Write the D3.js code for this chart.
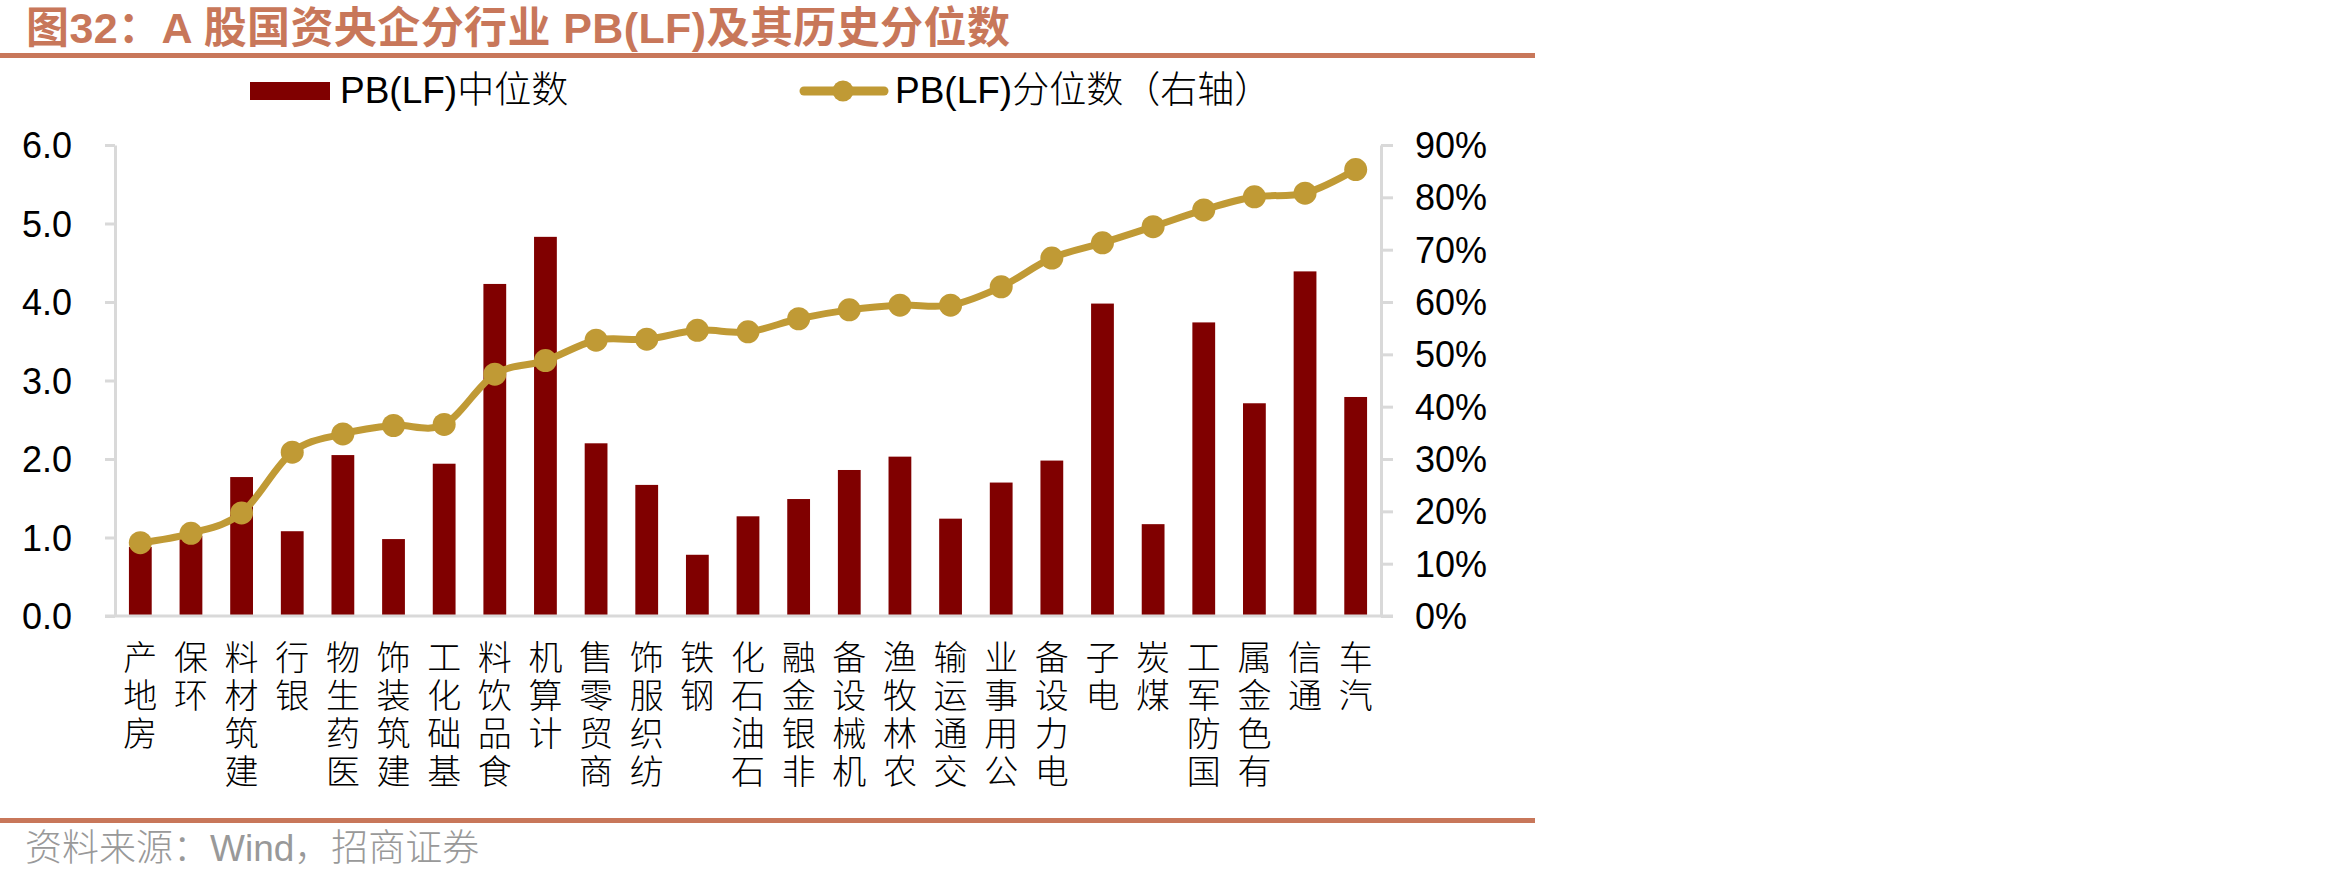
<!DOCTYPE html>
<html>
<head>
<meta charset="utf-8">
<script src="https://cdn.jsdelivr.net/npm/d3@7"></script>
<style>
  body { margin: 0; background: #fff; }
  text { font-family: "Liberation Sans", Arial, "Noto Sans CJK SC", sans-serif; }
</style>
</head>
<body>
<div id="chart"></div>
<script>
// 行业
var categories = ['房地产','环保','建筑材料','银行','医药生物','建筑装饰','基础化工','食品饮料','计算机','商贸零售','纺织服饰','钢铁','石油石化','非银金融','机械设备','农林牧渔','交通运输','公用事业','电力设备','电子','煤炭','国防军工','有色金属','通信','汽车'];
// PB(LF)中位数
var pbMedian = [0.88,1.02,1.77,1.08,2.05,0.98,1.94,4.23,4.83,2.20,1.67,0.78,1.27,1.49,1.86,2.03,1.24,1.70,1.98,3.98,1.17,3.74,2.71,4.39,2.79];
// PB(LF)分位数（右轴）
var pbPct = [0.140,0.158,0.197,0.313,0.348,0.364,0.366,0.462,0.488,0.527,0.529,0.546,0.543,0.568,0.585,0.594,0.594,0.629,0.684,0.713,0.744,0.776,0.801,0.808,0.853];
var leftTicks = [0,1,2,3,4,5,6];
var rightTicks = [0,0.1,0.2,0.3,0.4,0.5,0.6,0.7,0.8,0.9];

var width = 2350, height = 881;
var barColor = '#800000', lineColor = '#C09A35', accent = '#C8775A', axisColor = '#D9D9D9';

var svg = d3.select('#chart').append('svg')
    .attr('width', width)
    .attr('height', height);

// 标题
svg.append('text')
    .attr('x', 26).attr('y', 43)
    .attr('font-size', 43).attr('font-weight', 'bold')
    .attr('letter-spacing', 0.4)
    .attr('fill', accent)
    .text('图32：A 股国资央企分行业 PB(LF)及其历史分位数');
svg.append('rect').attr('x', 0).attr('y', 53).attr('width', 1535).attr('height', 5).attr('fill', accent);

// 比例尺
var x = d3.scaleBand().domain(categories).range([115, 1381]).paddingInner(0.55).paddingOuter(0.275);
var yL = d3.scaleLinear().domain([0, 6]).range([616, 145]);
var yR = d3.scaleLinear().domain([0, 0.9]).range([616, 145]);

// 柱子
svg.selectAll('rect.bar')
    .data(pbMedian)
    .enter()
    .append('rect')
    .attr('class', 'bar')
    .attr('x', function (d, i) { return x(categories[i]); })
    .attr('y', function (d) { return yL(d); })
    .attr('width', x.bandwidth())
    .attr('height', function (d) { return yL(0) - yL(d); })
    .attr('fill', barColor);

// 坐标轴
var leftAxis = d3.axisLeft(yL).tickValues(leftTicks).tickSize(10).tickSizeOuter(0).tickPadding(33)
    .tickFormat(d3.format('.1f'));
var rightAxis = d3.axisRight(yR).tickValues(rightTicks).tickSize(12).tickSizeOuter(0).tickPadding(22)
    .tickFormat(d3.format('.0%'));

var gL = svg.append('g').attr('transform', 'translate(115,0)').call(leftAxis);
var gR = svg.append('g').attr('transform', 'translate(1381,0)').call(rightAxis);
[gL, gR].forEach(function (g) {
    g.select('.domain').attr('stroke', axisColor).attr('stroke-width', 3);
    g.selectAll('.tick line').attr('stroke', axisColor).attr('stroke-width', 3);
    g.selectAll('.tick text').attr('font-size', 36).attr('fill', '#000')
        .attr('font-family', '"Liberation Sans", Arial, sans-serif').attr('dy', '0.35em');
});
// x轴
svg.append('line')
    .attr('x1', 105).attr('x2', 1393)
    .attr('y1', yL(0)).attr('y2', yL(0))
    .attr('stroke', axisColor).attr('stroke-width', 3);

// 行业标签（竖排，自下而上）
var labels = svg.append('g');
categories.forEach(function (c, i) {
    var chars = c.split('').reverse();
    var cx = x(c) + x.bandwidth() / 2;
    chars.forEach(function (ch, j) {
        labels.append('text')
            .attr('x', cx).attr('y', 658 + j * 38)
            .attr('text-anchor', 'middle')
            .attr('dominant-baseline', 'central')
            .attr('font-family', '"Noto Sans CJK SC", sans-serif')
            .attr('font-weight', 300)
            .attr('font-size', 34)
            .attr('fill', '#000')
            .text(ch);
    });
});

// 折线
var line = d3.line()
    .x(function (d, i) { return x(categories[i]) + x.bandwidth() / 2; })
    .y(function (d) { return yR(d); })
    .curve(d3.curveCardinal.tension(0));
svg.append('path')
    .datum(pbPct)
    .attr('d', line)
    .attr('fill', 'none')
    .attr('stroke', lineColor)
    .attr('stroke-width', 7);
svg.selectAll('circle.pt')
    .data(pbPct)
    .enter()
    .append('circle')
    .attr('class', 'pt')
    .attr('cx', function (d, i) { return x(categories[i]) + x.bandwidth() / 2; })
    .attr('cy', function (d) { return yR(d); })
    .attr('r', 11.5)
    .attr('fill', lineColor);

// 图例
var legend = svg.append('g');
legend.append('rect').attr('x', 250).attr('y', 82).attr('width', 80).attr('height', 18).attr('fill', barColor);
var t1 = legend.append('text').attr('x', 340).attr('y', 103).attr('font-size', 37).attr('fill', '#000');
t1.append('tspan').text('PB(LF)');
t1.append('tspan').attr('font-weight', 300).attr('font-family', '"Noto Sans CJK SC", sans-serif').text('中位数');
legend.append('line').attr('x1', 804).attr('x2', 884).attr('y1', 91).attr('y2', 91)
    .attr('stroke', lineColor).attr('stroke-width', 9).attr('stroke-linecap', 'round');
legend.append('circle').attr('cx', 843).attr('cy', 91).attr('r', 10.5).attr('fill', lineColor);
var t2 = legend.append('text').attr('x', 895).attr('y', 103).attr('font-size', 37).attr('fill', '#000');
t2.append('tspan').text('PB(LF)');
t2.append('tspan').attr('font-weight', 300).attr('font-family', '"Noto Sans CJK SC", sans-serif').text('分位数（右轴）');

// 底部来源
svg.append('rect').attr('x', 0).attr('y', 818).attr('width', 1535).attr('height', 5).attr('fill', accent);
svg.append('text')
    .attr('x', 25).attr('y', 861)
    .attr('font-size', 37).attr('fill', '#999')
    .attr('font-weight', 300)
    .text('资料来源：Wind，招商证券');
</script>
</body>
</html>
